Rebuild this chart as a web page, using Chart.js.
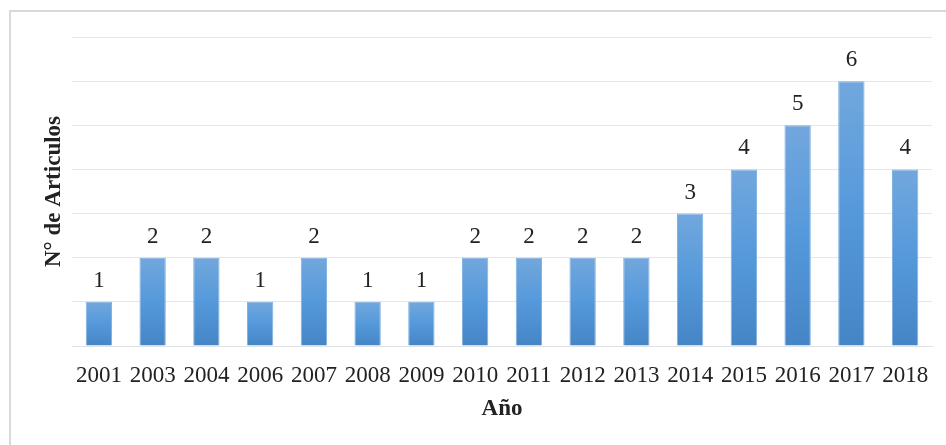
<!DOCTYPE html>
<html>
<head>
<meta charset="utf-8">
<script src="https://cdn.jsdelivr.net/npm/chart.js@4"></script>
<style>
  html, body { margin: 0; padding: 0; background: #fff; }
  #frame { position: absolute; left: 9px; top: 10px; width: 1000px; height: 1000px; border: 2px solid #d9d9d9; }
  #wrap { position: absolute; left: 0; top: 0; width: 946px; height: 445px; }
</style>
</head>
<body>
<div id="frame"></div>
<div id="wrap"><canvas id="myChart"></canvas></div>
<script>
const years = ['2001', '2003', '2004', '2006', '2007', '2008', '2009', '2010', '2011',
  '2012', '2013', '2014', '2015', '2016', '2017', '2018'];
const articles = [1, 2, 2, 1, 2, 1, 1, 2, 2, 2, 2, 3, 4, 5, 6, 4];

const serif = "'Liberation Serif', 'Times New Roman', serif";

// gradient from lighter top to darker bottom, one per bar
function barGradient(context) {
  const chart = context.chart;
  const y = chart.scales.y;
  if (!y || context.raw == null) return '#5b9bd5';
  const top = y.getPixelForValue(context.raw);
  const bottom = y.getPixelForValue(0);
  if (!isFinite(top) || !isFinite(bottom) || top === bottom) return '#5b9bd5';
  const g = chart.ctx.createLinearGradient(0, top, 0, bottom);
  g.addColorStop(0, '#72a7dd');
  g.addColorStop(0.5, '#5599db');
  g.addColorStop(1, '#4585c6');
  return g;
}

// value labels above the bars
const valueLabels = {
  id: 'valueLabels',
  afterDatasetsDraw(chart) {
    const ctx = chart.ctx;
    const meta = chart.getDatasetMeta(0);
    ctx.save();
    ctx.font = '23px ' + serif;
    ctx.fillStyle = '#222';
    ctx.textAlign = 'center';
    ctx.textBaseline = 'alphabetic';
    meta.data.forEach((bar, i) => {
      ctx.fillText(String(articles[i]), bar.x, bar.y - 15);
    });
    ctx.restore();
  }
};

new Chart(document.getElementById('myChart'), {
  type: 'bar',
  data: {
    labels: years,
    datasets: [{
      label: 'Nº de Articulos',
      data: articles,
      backgroundColor: barGradient,
      borderColor: '#7fb0e0',
      borderWidth: 1,
      barPercentage: 0.49,
      categoryPercentage: 1
    }]
  },
  options: {
    responsive: true,
    maintainAspectRatio: false,
    animation: false,
    layout: { padding: { left: 10, top: 37, right: 14, bottom: 22 } },
    plugins: {
      legend: { display: false },
      tooltip: { enabled: false }
    },
    scales: {
      x: {
        afterFit(scale) { scale.height = 77; },
        grid: { display: false, drawTicks: false },
        border: { color: '#dfe3e8', width: 1 },
        ticks: { color: '#222', font: { family: serif, size: 23 }, padding: 16, maxRotation: 0, autoSkip: false },
        title: {
          display: true, text: 'Año', color: '#222',
          font: { family: serif, size: 23, weight: 'bold' },
          padding: { top: 8, bottom: 0 }
        }
      },
      y: {
        afterFit(scale) { scale.width = 62; },
        min: 0,
        max: 7,
        ticks: { display: false, stepSize: 1 },
        grid: { color: '#e3e6ea', drawTicks: false },
        border: { display: false },
        title: {
          display: true, text: 'N° de Articulos', color: '#222',
          font: { family: serif, size: 23, weight: 'bold' },
          padding: { top: 30, bottom: 6 }
        }
      }
    }
  },
  plugins: [valueLabels]
});
</script>
</body>
</html>
